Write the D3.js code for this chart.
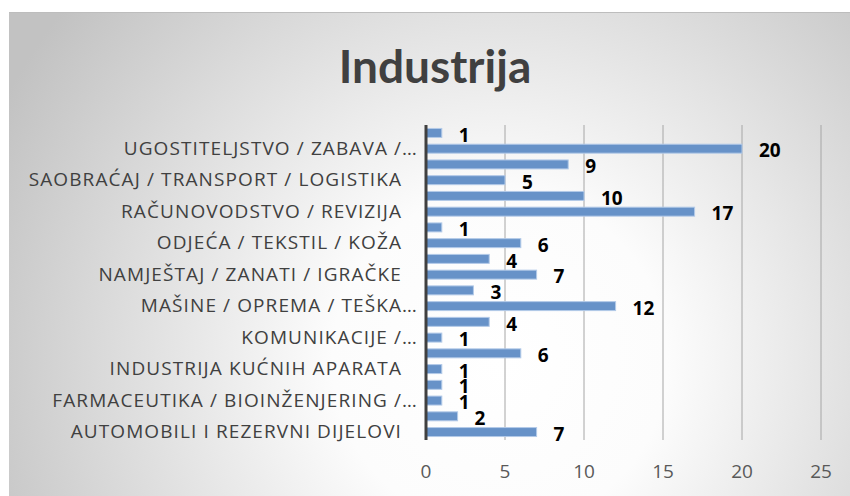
<!DOCTYPE html>
<html>
<head>
<meta charset="utf-8">
<script src="https://cdn.jsdelivr.net/npm/d3@7"></script>
<style>
  body { margin: 0; background: #fff; }
  svg { display: block; }
</style>
</head>
<body>
<svg id="chart" width="850" height="496"></svg>
<script>
// categories bottom -> top (only every other one is labelled in the chart)
const categories = [
  "AUTOMOBILI I REZERVNI DIJELOVI",
  "BANKARSTVO / FINANSIJE",
  "FARMACEUTIKA / BIOINŽENJERING /…",
  "GRAĐEVINARSTVO",
  "INDUSTRIJA KUĆNIH APARATA",
  "IT / SOFTVER",
  "KOMUNIKACIJE /…",
  "KONSALTING",
  "MAŠINE / OPREMA / TEŠKA…",
  "MEDIJI / MARKETING",
  "NAMJEŠTAJ / ZANATI / IGRAČKE",
  "NEKRETNINE",
  "ODJEĆA / TEKSTIL / KOŽA",
  "PREHRAMBENA INDUSTRIJA",
  "RAČUNOVODSTVO / REVIZIJA",
  "RUDARSTVO / ENERGETIKA",
  "SAOBRAĆAJ / TRANSPORT / LOGISTIKA",
  "TRGOVINA",
  "UGOSTITELJSTVO / ZABAVA /…",
  "ZDRAVSTVO"
];
const values = [7, 2, 1, 1, 1, 6, 1, 4, 12, 3, 7, 4, 6, 1, 17, 10, 5, 9, 20, 1];
const xTicks = [0, 5, 10, 15, 20, 25];
const title = "Industrija";

const svg = d3.select("#chart");
const W = 850, H = 496;
const font = "'Open Sans', 'Noto Sans', sans-serif";

// background panel with radial gradient
const defs = svg.append("defs");
const grad = defs.append("radialGradient")
  .attr("id", "bg")
  .attr("gradientUnits", "userSpaceOnUse")
  .attr("cx", 500).attr("cy", 360).attr("r", 560);
grad.append("stop").attr("offset", 0).attr("stop-color", "#ffffff");
grad.append("stop").attr("offset", 0.3).attr("stop-color", "#fcfcfc");
grad.append("stop").attr("offset", 1).attr("stop-color", "#c2c2c2");

svg.append("rect")
  .attr("x", 9).attr("y", 12).attr("width", W - 9).attr("height", H - 12)
  .attr("fill", "url(#bg)");
svg.append("line")
  .attr("x1", 9).attr("x2", W).attr("y1", 12.5).attr("y2", 12.5)
  .attr("stroke", "#bdbdbd").attr("stroke-width", 1);

svg.append("text")
  .attr("x", 435).attr("y", 83)
  .attr("text-anchor", "middle")
  .attr("font-family", "Lato, 'Open Sans', sans-serif")
  .attr("font-weight", "bold")
  .attr("font-size", 46)
  .attr("fill", "#404040")
  .text(title);

const x = d3.scaleLinear().domain([0, 25]).range([426, 821]);
const y = d3.scaleBand()
  .domain(categories.slice().reverse())
  .range([125, 440])
  .paddingInner(0.43)
  .paddingOuter(0.22);

// gridlines
svg.append("g")
  .selectAll("line")
  .data(xTicks.filter(d => d > 0))
  .join("line")
  .attr("x1", d => x(d)).attr("x2", d => x(d))
  .attr("y1", 125).attr("y2", 440)
  .attr("stroke", "#a6a6a6").attr("stroke-width", 1);

// x tick labels
svg.append("g")
  .selectAll("text")
  .data(xTicks)
  .join("text")
  .attr("x", d => x(d))
  .attr("y", 478)
  .attr("text-anchor", "middle")
  .attr("font-family", font)
  .attr("font-size", 19)
  .attr("fill", "#595959")
  .text(d => d);

// bars
const data = categories.map((c, i) => ({ c, v: values[i] }));
svg.append("g")
  .selectAll("rect")
  .data(data)
  .join("rect")
  .attr("x", x(0))
  .attr("y", d => y(d.c))
  .attr("width", d => x(d.v) - x(0))
  .attr("height", y.bandwidth())
  .attr("fill", "#6792c8")
  .attr("stroke", "#b3cae8")
  .attr("stroke-width", 1);

// data labels
svg.append("g")
  .selectAll("text")
  .data(data)
  .join("text")
  .attr("x", d => x(d.v) + 17)
  .attr("y", d => y(d.c) + y.bandwidth() / 2 + 2)
  .attr("dy", "0.35em")
  .attr("font-family", font)
  .attr("font-weight", "bold")
  .attr("font-size", 19)
  .attr("fill", "#000")
  .text(d => d.v);

// y axis: every other label
const yAxis = d3.axisLeft(y)
  .tickValues(categories.filter((c, i) => i % 2 === 0))
  .tickSize(0)
  .tickPadding(24);
const gy = svg.append("g")
  .attr("transform", `translate(${x(0)},0)`)
  .call(yAxis);
gy.select(".domain").remove();
gy.selectAll("text")
  .attr("font-family", font)
  .attr("font-size", 19)
  .attr("letter-spacing", 1.1)
  .attr("fill", "#404040")
  .attr("dx", d => d.endsWith("…") ? 16 : 0);

// vertical axis line
svg.append("line")
  .attr("x1", x(0)).attr("x2", x(0))
  .attr("y1", 125).attr("y2", 440)
  .attr("stroke", "#404040").attr("stroke-width", 3);
</script>
</body>
</html>
